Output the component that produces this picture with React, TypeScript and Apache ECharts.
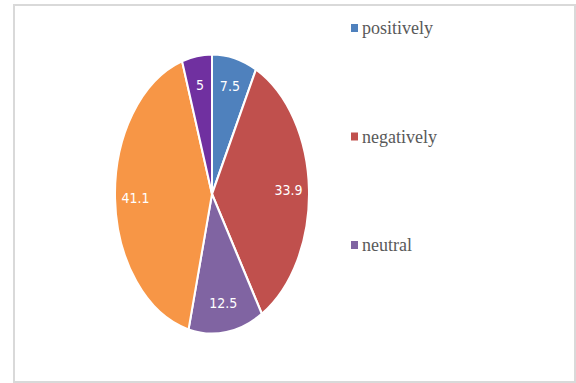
import React, { useEffect, useRef } from "react";
import * as echarts from "echarts";

const sliceNames = ["positively", "negatively", "neutral", "other A", "other B"];
const sliceValues = [7.5, 33.9, 12.5, 41.1, 5];
const sliceColors = ["#4f81bd", "#c0504d", "#8064a2", "#f79646", "#7030a0"];
const legendNames = ["positively", "negatively", "neutral"];
const legendColors = ["#4f81bd", "#c0504d", "#8064a2"];

export default function App() {
  const ref = useRef<HTMLDivElement>(null);
  useEffect(() => {
    if (!ref.current) return;
    const chart = echarts.init(ref.current, null, { renderer: "svg" });
    const total = sliceValues.reduce((a, b) => a + b, 0);
    const starts: number[] = [];
    let acc = 0;
    for (const v of sliceValues) {
      starts.push(acc);
      acc += v;
    }
    const cx = 212;
    const cy = 194;
    const rx = 97;
    const ry = 140;
    const labelFrac = 0.79;

    const pieSeries: any = {
      type: "custom",
      name: "pie",
      coordinateSystem: "none",
      silent: true,
      data: sliceValues.map((v, i) => ({ name: sliceNames[i], value: [starts[i], v] })),
      renderItem: (params: any, api: any) => {
        const s = api.value(0) as number;
        const v = api.value(1) as number;
        const a0 = -Math.PI / 2 + (2 * Math.PI * s) / total;
        const a1 = -Math.PI / 2 + (2 * Math.PI * (s + v)) / total;
        const mid = (a0 + a1) / 2;
        const lx = cx + Math.cos(mid) * rx * labelFrac;
        const ly = cy + Math.sin(mid) * ry * labelFrac;
        return {
          type: "group",
          children: [
            {
              type: "sector",
              x: cx,
              y: cy,
              scaleY: ry / rx,
              shape: { cx: 0, cy: 0, r: rx, r0: 0, startAngle: a0, endAngle: a1, clockwise: true },
              style: {
                fill: sliceColors[params.dataIndex],
                stroke: "#ffffff",
                lineWidth: 2,
                strokeNoScale: true,
              },
            },
            {
              type: "text",
              x: lx,
              y: ly,
              style: {
                text: String(v),
                fill: "#ffffff",
                fontSize: 14,
                fontFamily: "DejaVu Sans Condensed",
                align: "center",
                verticalAlign: "middle",
              },
            },
          ],
        };
      },
    };

    const legendX = 351;
    const legendY0 = 28;
    const legendStep = 108.5;
    const legendGraphics: any[] = [];
    legendNames.forEach((n, i) => {
      const y = legendY0 + i * legendStep;
      legendGraphics.push({
        type: "rect",
        shape: { x: legendX, y: y - 4, width: 7, height: 8 },
        style: { fill: legendColors[i] },
        silent: true,
      });
      legendGraphics.push({
        type: "text",
        x: legendX + 11,
        y: y,
        style: {
          text: n,
          fill: "#595959",
          fontSize: 18,
          fontFamily: "serif",
          align: "left",
          verticalAlign: "middle",
        },
        silent: true,
      });
    });

    chart.setOption({
      animation: false,
      backgroundColor: "#ffffff",
      graphic: [
        {
          type: "rect",
          shape: { x: 14, y: 5, width: 561, height: 377 },
          style: { fill: "none", stroke: "#d9d9d9", lineWidth: 2 },
          silent: true,
          z: 0,
        },
        ...legendGraphics,
      ],
      series: [pieSeries],
    });
    return () => chart.dispose();
  }, []);
  return (
    <div
      ref={ref}
      style={{ position: "fixed", left: 0, top: 0, width: 576, height: 383 }}
    />
  );
}
